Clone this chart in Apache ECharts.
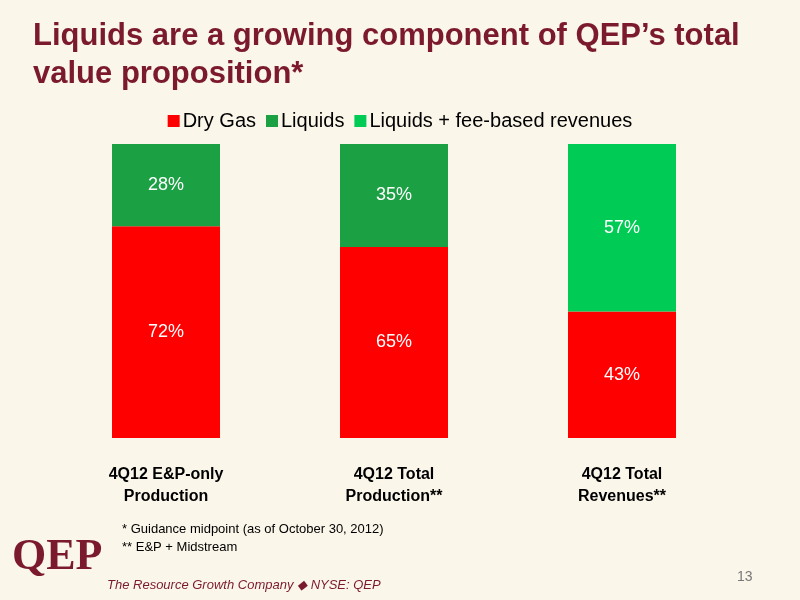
<!DOCTYPE html>
<html><head><meta charset="utf-8">
<script src="https://cdn.jsdelivr.net/npm/echarts@6/dist/echarts.min.js"></script>
<style>html,body{margin:0;padding:0;background:#FBF6EA;}#c{width:800px;height:600px;}</style>
</head><body><div id="c"></div>
<script>
const categories = ['4Q12 E&P-only\nProduction', '4Q12 Total\nProduction**', '4Q12 Total\nRevenues**'];
const dryGas = [72, 65, 43];
const liquids = [28, 35, null];
const liquidsFee = [null, null, 57];
const seriesNames = ['Dry Gas', 'Liquids', 'Liquids + fee-based revenues'];
const colors = ['#FF0000', '#1BA044', '#00CC55'];

const lbl = {show: true, position: 'inside', color: '#fff', fontSize: 18, fontFamily: 'Liberation Sans', formatter: p => p.value + '%'};
const chart = echarts.init(document.getElementById('c'));
chart.setOption({
  backgroundColor: '#FBF6EA',
  animation: false,
  title: {text: 'Liquids are a growing component of QEP\u2019s total\nvalue proposition*', left: 28, top: 12,
    textStyle: {color: '#7A1A2C', fontSize: 31, fontWeight: 'bold', fontFamily: 'Liberation Sans', lineHeight: 38}},
  legend: {top: 106, left: 'center', itemWidth: 12, itemHeight: 12, itemGap: 10, icon: 'rect',
    textStyle: {fontSize: 20, color: '#000', fontFamily: 'Liberation Sans', padding: [0, 0, 0, -2]}},
  grid: {left: 52, right: 64, top: 144, bottom: 162},
  xAxis: {type: 'category', data: categories, axisLine: {show: false}, axisTick: {show: false},
    axisLabel: {margin: 26, fontWeight: 'bold', fontSize: 16, color: '#000', fontFamily: 'Liberation Sans', lineHeight: 22}},
  yAxis: {type: 'value', min: 0, max: 100, show: false},
  series: [
    {name: seriesNames[0], type: 'bar', stack: 's', data: dryGas, barWidth: 108, itemStyle: {color: colors[0]}, label: lbl},
    {name: seriesNames[1], type: 'bar', stack: 's', data: liquids, itemStyle: {color: colors[1]}, label: lbl},
    {name: seriesNames[2], type: 'bar', stack: 's', data: liquidsFee, itemStyle: {color: colors[2]}, label: lbl}
  ],
  graphic: [
    {type: 'text', left: 122, top: 520, style: {text: '* Guidance midpoint (as of October 30, 2012)\n** E&P + Midstream', font: '13px "Liberation Sans"', fill: '#000', lineHeight: 18}},
    {type: 'text', left: 12, top: 536, style: {text: 'QEP', font: 'bold 44px "Liberation Serif"', fill: '#7A1A2C'}},
    {type: 'text', left: 107, top: 579, style: {text: 'The Resource Growth Company \u25C6 NYSE: QEP', font: 'italic 13px "Liberation Sans"', fill: '#7A1A2C'}},
    {type: 'text', left: 737, top: 570, style: {text: '13', font: '14px "Liberation Sans"', fill: '#777'}}
  ]
});
</script></body></html>
